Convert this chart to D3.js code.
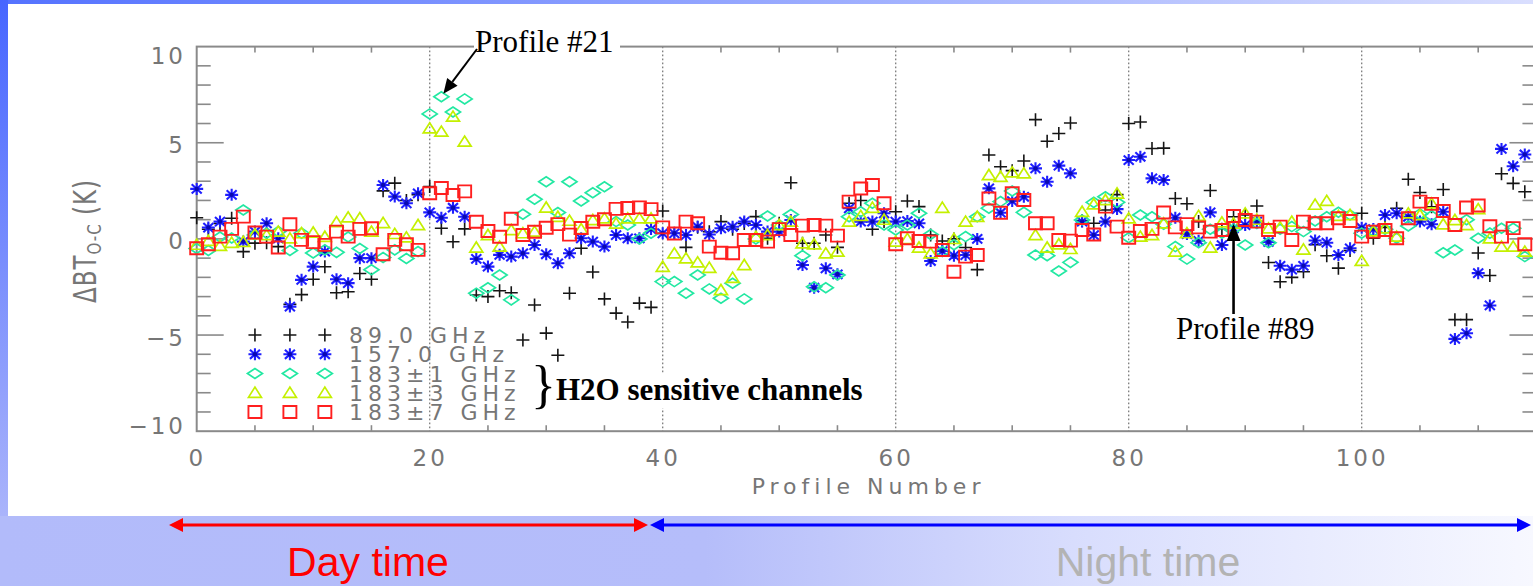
<!DOCTYPE html>
<html>
<head>
<meta charset="utf-8">
<script src="https://cdn.jsdelivr.net/npm/d3@7"></script>
<style>
  html, body { margin: 0; padding: 0; overflow: hidden; background: #fff; }
  svg { display: block; }
</style>
</head>
<body>
<svg id="chart" width="1533" height="586"></svg>
<script>
// Observed-minus-calculated brightness temperature differences (K) per profile
const profiles = d3.range(0, 115);

const ch89 = [
  1.1, 0.5, 0.8, 1.07, -0.66, -0.22, -0.2, -0.4, -3.4, -2.9,
  -2.1, -1.45, -2.8, -2.75, -1.8, -2.1, 2.5, 2.9, 2.0, 2.3,
  2.72, 0.55, -0.15, 0.52, -2.92, -3.0, -2.7, -2.8, -5.26, -3.44,
  -4.9, -6.05, -2.83, -0.49, -1.72, -3.12, -3.86, -4.32, -3.34, -3.56,
  1.45, 0.29, -0.44, 0.6, 0.37, 0.9, 0.5, 0.8, 1.16, 0.03,
  0.81, 2.92, -0.23, -0.23, 0.2, -0.44, 1.85, 2.0, 0.5, 0.9,
  1.41, 1.97, 1.68, 0.2, -0.11, 0.0, -0.45, -1.6, 4.36, 3.75,
  3.55, 4.05, 6.2, 5.08, 5.48, 6.03, 0.95, 0.81, 1.5, 2.3,
  6.0, 6.08, 4.7, 4.72, 2.1, 1.83, 0.9, 2.52, 0.5, 1.15,
  1.24, 1.71, -1.23, -2.23, -2.0, -1.71, -0.3, -0.88, -1.52, -0.6,
  1.33, 0.03, 0.6, 1.59, 3.1, 2.41, 1.67, 2.57, -4.2, -4.2,
  -0.73, -1.9, 3.39, 2.89, 2.45
];

const ch157 = [
  2.6, 0.59, 0.9, 2.29, -0.14, 0.38, 0.81, 0.03, -3.52, -2.13,
  -1.44, -0.66, -2.1, -2.3, -1.0, -1.0, 2.8, 2.2, 1.85, 2.37,
  1.38, 1.1, 1.62, 1.15, -1.04, -1.44, -0.83, -0.92, -0.75, -0.32,
  -0.8, -1.27, -0.75, 0.03, -0.14, -0.4, 0.2, 0.03, 0.03, 0.51,
  0.29, 0.29, 0.2, 0.63, 0.23, 0.55, 0.63, 0.9, 0.72, 0.38,
  0.38, 0.98, -1.36, -2.54, -1.53, -1.84, 1.59, 0.9, 0.9, 1.33,
  0.9, 0.93, 0.81, -1.15, -0.63, -0.87, -0.84, 0.0, 2.63, 1.36,
  1.97, 2.19, 3.67, 2.97, 3.81, 3.41, 0.9, 0.2, 0.9, 1.55,
  4.1, 4.27, 3.15, 3.06, 1.1, 0.25, -0.1, 1.38, -0.32, 0.55,
  0.72, 0.9, -0.16, -1.4, -1.6, -1.4, -0.08, -0.2, -0.84, -0.49,
  0.58, 0.51, 1.24, 1.33, 1.15, 0.9, 0.76, 1.41, -5.2, -4.91,
  -1.78, -3.46, 4.68, 3.78, 4.39
];

const ch183p1 = [
  -0.5, -0.6, 0.1, 0.05, 1.5, 0.2, 0.3, 0.38, -0.6, 0.3,
  -0.73, -0.57, -0.7, 0.1, -0.5, -1.6, -0.97, -0.57, -1.02, -0.66,
  6.5, 7.39, 6.6, 7.28, -2.83, -2.54, -1.88, -3.17, 1.28, 2.06,
  2.97, 1.37, 2.97, 1.97, 2.4, 2.71, 0.9, 0.72, 0.0, 0.29,
  -2.22, -2.22, -2.83, -1.88, -2.6, -3.09, -2.31, -3.12, 0.0, 1.19,
  0.72, 1.27, -0.87, -2.49, -2.54, -1.88, 1.15, 1.41, 1.85, 0.72,
  0.46, 0.72, 1.33, 0.23, -0.66, -0.3, 0.12, 1.15, 1.6, 1.94,
  2.49, 1.38, -0.84, -0.87, -1.67, -1.22, 0.98, 1.9, 2.19, 1.9,
  0.06, 1.24, 1.15, 0.76, -0.4, -1.05, -0.2, 0.5, 0.3, 0.5,
  -0.32, 0.8, -0.2, 0.5, 0.64, 0.38, 0.93, 1.15, 1.39, 1.24,
  0.3, 0.4, 0.5, 0.03, 0.67, 1.3, 1.2, -0.72, -0.58, 1.0,
  0.03, 0.3, 0.55, 0.55, -0.92
];

const ch183p3 = [
  -0.3, -0.1, -0.36, -0.2, -0.15, 0.24, 0.2, 0.38, 0.03, 0.3,
  0.33, 0.11, 0.87, 1.12, 1.08, 0.38, 0.83, 0.26, 0.08, 0.72,
  5.75, 5.58, 6.36, 5.06, -0.45, 0.2, -0.4, 0.46, 0.3, 0.38,
  1.63, 1.15, 0.95, 0.51, 0.98, 1.07, 0.8, 1.07, 1.07, 1.07,
  -1.45, -0.75, -1.01, -1.22, -1.5, -2.66, -2.02, -1.36, 0.12, 0.2,
  0.72, 0.9, -0.23, -0.28, -0.75, -0.66, 0.9, 1.2, 1.62, 1.0,
  -0.14, 0.0, -0.45, -0.75, 1.62, 0.0, 0.9, 1.15, 3.32, 3.23,
  3.46, 3.41, 0.2, -0.45, -0.28, -0.52, 1.41, 1.8, 2.02, 2.36,
  1.07, 0.12, 0.2, 0.81, -0.66, 0.3, 1.2, -0.45, 0.86, 0.8,
  1.33, 1.0, 0.55, 0.6, 0.9, -0.55, 1.78, 1.98, 1.2, 1.24,
  -1.14, 0.4, 0.55, 0.12, 1.33, 1.24, 1.85, 0.76, 0.98, 0.72,
  1.55, 0.03, -0.4, -0.4, -0.66
];

const ch183p7 = [
  -0.49, -0.28, 0.12, 0.52, 1.16, 0.33, 0.12, -0.45, 0.76, -0.05,
  -0.17, -0.31, 0.38, 0.12, 0.52, 0.55, -0.8, -0.05, -0.28, -0.57,
  2.37, 2.65, 2.28, 2.47, 0.89, 0.41, 0.11, 1.05, 0.2, 0.37,
  0.58, 0.77, 0.22, 0.57, 0.89, 1.02, 1.56, 1.61, 1.64, 1.55,
  0.6, 0.28, 0.9, 0.81, -0.4, -0.72, -0.75, -0.06, -0.06, -0.14,
  0.51, 0.2, 0.69, 0.72, 0.69, 0.17, 1.94, 2.62, 2.8, 1.85,
  -0.28, 0.03, -0.11, -0.14, -0.58, -1.71, -0.92, -0.84, 2.1, 1.36,
  2.37, 2.02, 0.81, 0.81, -0.06, -0.09, 0.46, 0.23, 1.68, 0.64,
  0.06, 0.41, 0.52, 1.37, 0.6, 0.77, 0.6, 0.38, 0.46, 1.19,
  0.98, 0.9, 0.46, 0.64, -0.06, 0.9, 0.81, 0.81, 1.07, 0.93,
  0.12, 0.38, 0.46, 0.03, 1.07, 1.94, 1.82, 1.45, 0.72, 1.63,
  1.74, 0.66, 0.12, 0.56, -0.28
];

const seriesLabels = ["89.0 GHz", "157.0 GHz", "183\u00B11 GHz", "183\u00B13 GHz", "183\u00B17 GHz"];
const seriesValues = [ch89, ch157, ch183p1, ch183p3, ch183p7];

const yMajorTicks = [10, 5, 0, -5, -10];
const yTickLabels = ["10", "5", "0", "\u22125", "\u221210"];
const xMajorTicks = [0, 20, 40, 60, 80, 100];
const xTickLabels = ["0", "20", "40", "60", "80", "100"];

// legend rows sit inside the plot, at these profile / value positions
const legendProfiles = [5, 8, 11];
const legendRows = [-5, -6, -7, -8, -9];

// ---------------------------------------------------------------------------
const W = 1533, H = 586;
const svg = d3.select("#chart");
const defs = svg.append("defs");

// slide background
const gLeft = defs.append("linearGradient").attr("id", "gLeft")
  .attr("x1", 0).attr("y1", 0).attr("x2", 0).attr("y2", 1);
gLeft.append("stop").attr("offset", 0).attr("stop-color", "#4766ff");
gLeft.append("stop").attr("offset", 1).attr("stop-color", "#aab4fb");
const gTop = defs.append("linearGradient").attr("id", "gTop")
  .attr("x1", 0).attr("y1", 0).attr("x2", 1).attr("y2", 0);
gTop.append("stop").attr("offset", 0).attr("stop-color", "#5472ff");
gTop.append("stop").attr("offset", 1).attr("stop-color", "#d9defe");
const gBot = defs.append("linearGradient").attr("id", "gBot")
  .attr("x1", 0).attr("y1", 0).attr("x2", 1).attr("y2", 0);
gBot.append("stop").attr("offset", 0).attr("stop-color", "#b2bbfa");
gBot.append("stop").attr("offset", 0.46).attr("stop-color", "#b5bdfa");
gBot.append("stop").attr("offset", 0.7).attr("stop-color", "#d8ddfd");
gBot.append("stop").attr("offset", 1).attr("stop-color", "#f7f8ff");

svg.append("rect").attr("x", 0).attr("y", 0).attr("width", W).attr("height", H).attr("fill", "url(#gBot)");
svg.append("rect").attr("x", 0).attr("y", 0).attr("width", W).attr("height", 5).attr("fill", "url(#gTop)");
svg.append("rect").attr("x", 0).attr("y", 0).attr("width", 8).attr("height", 516).attr("fill", "url(#gLeft)");
svg.append("rect").attr("x", 8).attr("y", 4).attr("width", W - 8).attr("height", 512).attr("fill", "#ffffff");

// ---------------------------------------------------------------------------
const x = d3.scaleLinear().domain([0, 115]).range([196.7, 196.7 + 115 * 11.65]);
const y = d3.scaleLinear().domain([-10, 10]).range([431.2, 46.6]);
const [x0, x1] = x.range();
const [yb, yt] = y.range();

const axisColor = "#8a8a8a";
const labelFont = "'DejaVu Sans', sans-serif";
const labelColor = "#767676";

const axes = svg.append("g");

// dotted verticals at the major profile ticks
axes.selectAll("line.grid").data(xMajorTicks.filter(d => d > 0)).join("line")
  .attr("class", "grid")
  .attr("x1", d => x(d)).attr("x2", d => x(d))
  .attr("y1", yt).attr("y2", yb)
  .attr("stroke", "#7d7d7d").attr("stroke-width", 1.3)
  .attr("stroke-dasharray", "1.6,2.4");

// minor x ticks (every 5 profiles) on bottom and top edges
const xMinor = d3.range(5, 115, 5).filter(d => d % 20 !== 0);
axes.selectAll("line.xminB").data(xMinor).join("line")
  .attr("x1", d => x(d)).attr("x2", d => x(d))
  .attr("y1", yb).attr("y2", yb - 6)
  .attr("stroke", axisColor).attr("stroke-width", 1.6);
axes.selectAll("line.xminT").data(xMinor).join("line")
  .attr("x1", d => x(d)).attr("x2", d => x(d))
  .attr("y1", yt).attr("y2", yt + 6)
  .attr("stroke", axisColor).attr("stroke-width", 1.6);

// y ticks: every 1 K minor, every 5 K major, on both vertical edges
const yAll = d3.range(-9, 10);
const tickLen = d => (d % 5 === 0 ? 27 : 14);
axes.selectAll("line.yL").data(yAll).join("line")
  .attr("x1", x0).attr("x2", d => x0 + tickLen(d))
  .attr("y1", d => y(d)).attr("y2", d => y(d))
  .attr("stroke", axisColor).attr("stroke-width", 1.6);
axes.selectAll("line.yR").data(yAll).join("line")
  .attr("x1", x1).attr("x2", d => x1 - tickLen(d))
  .attr("y1", d => y(d)).attr("y2", d => y(d))
  .attr("stroke", axisColor).attr("stroke-width", 1.6);

// frame
axes.append("rect")
  .attr("x", x0).attr("y", yt).attr("width", x1 - x0).attr("height", yb - yt)
  .attr("fill", "none").attr("stroke", axisColor).attr("stroke-width", 2);

// tick labels
axes.selectAll("text.ylab").data(yMajorTicks).join("text")
  .attr("x", 186)
  .attr("y", d => Math.min(Math.max(y(d) + 2, yt + 8.5), yb - 6) + 8.5)
  .attr("text-anchor", "end")
  .attr("font-family", labelFont).attr("font-size", 23)
  .attr("letter-spacing", 3).attr("fill", labelColor)
  .text((d, i) => yTickLabels[i]);

axes.selectAll("text.xlab").data(xMajorTicks).join("text")
  .attr("x", d => x(d) + 0.5)
  .attr("y", 465.5)
  .attr("text-anchor", "middle")
  .attr("font-family", labelFont).attr("font-size", 23)
  .attr("letter-spacing", 3).attr("fill", labelColor)
  .text((d, i) => xTickLabels[i]);

svg.append("text")
  .attr("x", (x0 + x1) / 2 + 2).attr("y", 494)
  .attr("text-anchor", "middle")
  .attr("font-family", labelFont).attr("font-size", 22)
  .attr("letter-spacing", 5).attr("fill", labelColor)
  .text("Profile Number");

// y-axis title, rotated
const yTitle = svg.append("text")
  .attr("transform", "translate(96,241) rotate(-90) scale(1,1.35)")
  .attr("text-anchor", "middle")
  .attr("font-family", labelFont).attr("font-size", 23)
  .attr("letter-spacing", 1).attr("fill", labelColor);
yTitle.append("tspan").text("\u0394BT");
yTitle.append("tspan").attr("font-size", 15).attr("dy", 4).text("O-C");
yTitle.append("tspan").attr("dy", -4).text(" (K)");

// ---------------------------------------------------------------------------
// symbols
const symbolStyles = [
  { path: "M-6.5,0H6.5M0,-6.5V6.5", stroke: "#151515", fill: "none", width: 1.6, dot: null },
  { path: "M-6.5,0H6.5M0,-6V6M-5,-4.6L5,4.6M-5,4.6L5,-4.6", stroke: "#1f1fff", fill: "none", width: 2.1, dot: "#0a0ab0" },
  { path: "M-7.5,0L0,-5L7.5,0L0,5Z", stroke: "#22e8a2", fill: "none", width: 1.7, dot: null },
  { path: "M-6.5,4.6L0,-5.6L6.5,4.6Z", stroke: "#c4f000", fill: "none", width: 1.7, dot: null },
  { path: "M-6.5,-6H6.5V6H-6.5Z", stroke: "#ff1f1f", fill: "none", width: 1.9, dot: null }
];

function drawSymbols(g, pts, s) {
  const sel = g.selectAll("g.pt").data(pts).join("g")
    .attr("class", "pt")
    .attr("transform", d => `translate(${x(d[0])},${y(d[1])})`);
  sel.append("path").attr("d", s.path)
    .attr("fill", s.fill).attr("stroke", s.stroke).attr("stroke-width", s.width)
    .attr("stroke-linejoin", "miter");
  if (s.dot) sel.append("circle").attr("r", 2.2).attr("fill", s.dot);
}

const plot = svg.append("g");
seriesValues.forEach((vals, i) => {
  const pts = profiles.map((p, k) => [p, vals[k]]);
  drawSymbols(plot.append("g"), pts, symbolStyles[i]);
});

// legend
const legend = svg.append("g");
seriesLabels.forEach((lab, i) => {
  const pts = legendProfiles.map(p => [p, legendRows[i]]);
  drawSymbols(legend.append("g"), pts, symbolStyles[i]);
  legend.append("text")
    .attr("x", 349).attr("y", y(legendRows[i]) + 8)
    .attr("font-family", labelFont).attr("font-size", 22)
    .attr("letter-spacing", 5).attr("fill", labelColor)
    .attr("xml:space", "preserve")
    .text(lab);
});

// brace + note for the water-vapour channels
svg.append("rect").attr("x", 553).attr("y", 374).attr("width", 322).attr("height", 34).attr("fill", "#fff");
svg.append("text")
  .attr("x", 531).attr("y", 402)
  .attr("font-family", "'Liberation Serif', 'Times New Roman', serif")
  .attr("font-size", 52).attr("fill", "#000")
  .text("}");
svg.append("text")
  .attr("x", 556).attr("y", 400)
  .attr("font-family", "'Liberation Serif', 'Times New Roman', serif")
  .attr("font-size", 31).attr("font-weight", "bold").attr("fill", "#000")
  .text("H2O sensitive channels");

// annotations with arrows
function arrow(g, xa, ya, xb, yb2, head, half, color, width) {
  const dx = xb - xa, dy = yb2 - ya, L = Math.hypot(dx, dy);
  const ux = dx / L, uy = dy / L;
  const bx = xb - ux * head, by = yb2 - uy * head;
  g.append("line").attr("x1", xa).attr("y1", ya).attr("x2", bx).attr("y2", by)
    .attr("stroke", color).attr("stroke-width", width);
  g.append("path")
    .attr("d", `M${xb},${yb2}L${bx - uy * half},${by + ux * half}L${bx + uy * half},${by - ux * half}Z`)
    .attr("fill", color);
}

const ann = svg.append("g");
ann.append("rect").attr("x", 474).attr("y", 26).attr("width", 146).attr("height", 27).attr("fill", "#fff");
ann.append("text")
  .attr("x", 475).attr("y", 52)
  .attr("font-family", "'Liberation Serif', 'Times New Roman', serif")
  .attr("font-size", 31).attr("fill", "#000")
  .text("Profile #21");
arrow(ann, 477, 49, x(21) + 2, y(ch183p1[21]) - 3, 15, 6.5, "#000", 2);

ann.append("text")
  .attr("x", 1176).attr("y", 339)
  .attr("font-family", "'Liberation Serif', 'Times New Roman', serif")
  .attr("font-size", 31).attr("fill", "#000")
  .text("Profile #89");
arrow(ann, x(89), 314, x(89), y(ch183p7[89]) + 8, 17, 7, "#000", 2.6);

// day / night spans under the plot
const spans = svg.append("g");
function doubleArrow(xa, xb, yy, color) {
  const head = 14, half = 7;
  spans.append("line").attr("x1", xa + head - 1).attr("x2", xb - head + 1)
    .attr("y1", yy).attr("y2", yy).attr("stroke", color).attr("stroke-width", 3.2);
  spans.append("path").attr("d", `M${xa},${yy}L${xa + head},${yy - half}L${xa + head},${yy + half}Z`).attr("fill", color);
  spans.append("path").attr("d", `M${xb},${yy}L${xb - head},${yy - half}L${xb - head},${yy + half}Z`).attr("fill", color);
}
doubleArrow(169, 648, 525, "#ff0000");
doubleArrow(650, 1531, 525, "#0000ff");

spans.append("text").attr("x", 368).attr("y", 576).attr("text-anchor", "middle")
  .attr("font-family", "'Liberation Sans', Arial, sans-serif").attr("font-size", 41)
  .attr("fill", "#ff0000").text("Day time");
spans.append("text").attr("x", 1148).attr("y", 576).attr("text-anchor", "middle")
  .attr("font-family", "'Liberation Sans', Arial, sans-serif").attr("font-size", 41)
  .attr("fill", "#b3b3b3").text("Night time");
</script>
</body>
</html>
